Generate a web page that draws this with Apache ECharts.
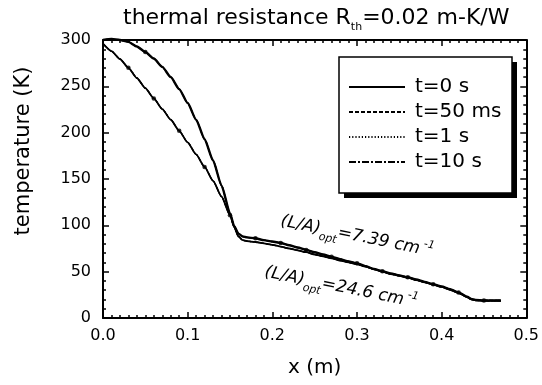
<!DOCTYPE html>
<html>
<head>
<meta charset="utf-8">
<script src="https://cdn.jsdelivr.net/npm/echarts@6/dist/echarts.min.js"></script>
<style>
html,body{margin:0;padding:0;background:#fff;}
#chartmain{width:542px;height:385px;}
</style>
</head>
<body>
<div id="chartmain"></div>
<script>
// (L/A)opt = 7.39 cm^-1 profile
var xA = [0,0.01,0.02,0.03,0.04,0.05,0.06,0.07,0.08,0.09,0.10,0.11,0.12,0.13,0.14,0.15,0.155,0.16,0.165,0.17,
  0.18,0.19,0.20,0.21,0.22,0.23,0.24,0.25,0.26,0.27,0.28,0.29,0.30,0.31,0.32,0.33,0.34,0.35,0.36,0.37,0.38,0.39,0.40,0.41,0.42,0.43,
  0.435,0.44,0.45,0.46,0.47];
var tA = [300,301,300,298,293,287,280,271,260,247,232,214,193,170,143,113,99,91,88,87,
  86,84,82.5,81,78.5,76,73.5,71,68.5,66,63.5,61,59,56,53,50.5,48,46,44,41.5,39,36.5,34,31,27.5,23,
  20.5,19.5,19,19,19];
// (L/A)opt = 24.6 cm^-1 profile
var xB = xA;
var tB = [296,288,279.5,270,259,248,237,225.5,214,202,189.5,176.5,163,148,131,111,98,88,84,83,
  82,80.5,79,77,75,73,71,68.5,66.5,64.5,62,60,58,55.5,52.5,50,47.5,45.5,43.5,41,38.5,36,33.5,30.5,27,22.5,
  20,19,18.5,18.5,18.5];
// dots seen along the curves
var markAx = [0.05,0.18,0.21,0.24,0.27,0.30,0.33,0.36,0.39,0.42,0.45];
var markBx = [0.03,0.06,0.09,0.12,0.15];
// legend entries
var times = ['t=0 s','t=50 ms','t=1 s','t=10 s'];
var dashes = ['solid',[4,2],[1.2,2],[7,2,2,2]];

var font = 'DejaVu Sans';

function pairs(xs, ts){
  var out = [];
  for(var i=0;i<xs.length;i++){ out.push([xs[i], ts[i]]); }
  return out;
}
function marks(xs, xsAll, ts){
  var out = [];
  for(var i=0;i<xs.length;i++){
    var k = xsAll.indexOf(xs[i]);
    if(k >= 0) out.push([xs[i], ts[k]]);
  }
  return out;
}

var dataA = pairs(xA, tA);
var dataB = pairs(xB, tB);

var series = [];
for(var i=0;i<times.length;i++){
  [[dataA, 2.4],[dataB, 1.8]].forEach(function(d){
    series.push({
      name: times[i],
      type: 'line',
      data: d[0],
      symbol: 'none',
      smooth: 0.2,
      smoothMonotone: 'x',
      clip: false,
      // the later curves all sit on the t=0 line, drawn thinner so it stays clean
      lineStyle: {color:'#000', width: i === 0 ? d[1] : 1.2, type: dashes[i]},
      itemStyle: {color:'#000'}
    });
  });
}
series.push({
  type: 'scatter',
  data: marks(markAx, xA, tA).concat(marks(markBx, xB, tB)),
  symbol: 'circle',
  symbolSize: 4.5,
  itemStyle: {color:'#000'},
  silent: true
});

var tickStyle = {color:'#000', width: 1.5};
function xAx(pos, show){
  return {
    type:'value', position: pos, min:0, max:0.5, interval:0.1,
    axisLine:{show:true, onZero:false, lineStyle:{color:'#000', width:2}},
    axisTick:{show:true, inside:true, length:6, lineStyle:tickStyle},
    minorTick:{show:true, splitNumber:10, length:3, lineStyle:tickStyle},
    splitLine:{show:false},
    axisLabel:{show:show, color:'#000', fontFamily:font, fontSize:16, margin:10,
      formatter:function(v){ return v.toFixed(1); }}
  };
}
function yAx(pos, show){
  return {
    type:'value', position: pos, min:0, max:300, interval:50,
    axisLine:{show:true, onZero:false, lineStyle:{color:'#000', width:2}},
    axisTick:{show:true, inside:true, length:6, lineStyle:tickStyle},
    minorTick:{show:true, splitNumber:5, length:3, lineStyle:tickStyle},
    splitLine:{show:false},
    axisLabel:{show:show, color:'#000', fontFamily:font, fontSize:16, margin:12}
  };
}

var xBottom = xAx('bottom', true);
xBottom.name = 'x (m)';
xBottom.nameLocation = 'middle';
xBottom.nameGap = 40;
xBottom.nameTextStyle = {color:'#000', fontFamily:font, fontSize:20};

var myChart = echarts.init(document.getElementById('chartmain'));
myChart.setOption({
  animation: false,
  backgroundColor: '#fff',
  title: {
    text: 'thermal resistance R{s|th}=0.02 m-K/W',
    left: 118, top: 2,
    textStyle: {color:'#000', fontFamily:font, fontSize:22, fontWeight:'normal',
      rich: {s:{fontFamily:font, fontSize:11, color:'#000', verticalAlign:'bottom', lineHeight:14, padding:[0,0,-4,0]}}}
  },
  grid: {left:103, right:13, top:40, bottom:67, containLabel:false},
  legend: {
    data: times,
    orient: 'vertical',
    left: 339, top: 57,
    padding: [20, 0, 0, 9],
    itemGap: 5,
    itemWidth: 56, itemHeight: 14,
    z: 10,
    itemStyle: {opacity: 0},
    textStyle: {color:'#000', fontFamily:font, fontSize:20, padding:[0,0,0,5]}
  },
  xAxis: [xBottom, xAx('top', false)],
  yAxis: [yAx('left', true), yAx('right', false)],
  graphic: [
    {type:'rect', z:5, shape:{x:344, y:62, width:173, height:136}, style:{fill:'#000'}},
    {type:'rect', z:6, shape:{x:339, y:57, width:173, height:136}, style:{fill:'#fff', stroke:'#000', lineWidth:1.5}},
    {type:'text', z:6, x:24, y:151, rotation:Math.PI/2,
      style:{text:'temperature (K)', fill:'#000', font:'21px "DejaVu Sans"', align:'center', verticalAlign:'middle'}},
    {type:'text', z:6, x:281, y:221, rotation:-0.2,
      style:{text:'(L/A){s|opt}=7.39 cm{p|-1}', fill:'#000', font:'italic 17px "DejaVu Sans"',
        align:'left', verticalAlign:'middle',
        rich:{s:{font:'italic 11px "DejaVu Sans"', fill:'#000', verticalAlign:'bottom', padding:[0,0,-5,0]},
              p:{font:'italic 11px "DejaVu Sans"', fill:'#000', verticalAlign:'top', padding:[-3,0,0,3]}}}},
    {type:'text', z:6, x:265, y:272, rotation:-0.2,
      style:{text:'(L/A){s|opt}=24.6 cm{p|-1}', fill:'#000', font:'italic 17px "DejaVu Sans"',
        align:'left', verticalAlign:'middle',
        rich:{s:{font:'italic 11px "DejaVu Sans"', fill:'#000', verticalAlign:'bottom', padding:[0,0,-5,0]},
              p:{font:'italic 11px "DejaVu Sans"', fill:'#000', verticalAlign:'top', padding:[-3,0,0,3]}}}}
  ],
  series: series
});
</script>
</body>
</html>
